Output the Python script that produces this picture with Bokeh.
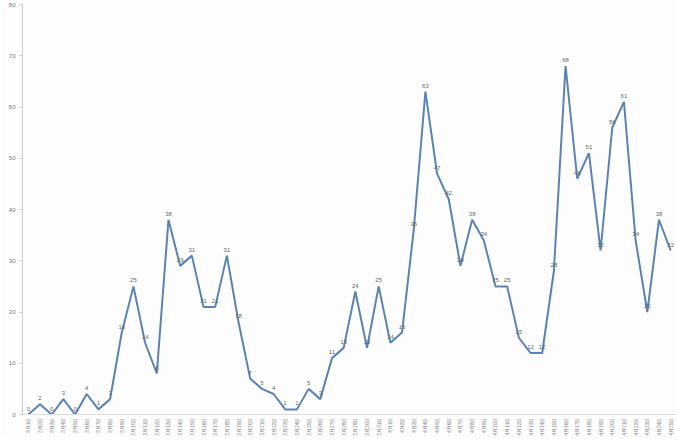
import math
from bokeh.plotting import figure
from bokeh.models import ColumnDataSource, FactorRange, FixedTicker
from bokeh.embed import file_html
from bokeh.resources import INLINE

march = [f"3月{d}日" for d in range(1, 32)]
april = [f"4月{d}日" for d in range(1, 26)]
dates = march + april

cases = [0, 2, 0, 3, 0, 4, 1, 3, 16, 25, 14, 8, 38, 29, 31, 21, 21, 31, 18, 7,
         5, 4, 1, 1, 5, 3, 11, 13, 24, 13, 25,
         14, 16, 36, 63, 47, 42, 29, 38, 34, 25, 25, 15, 12, 12, 28, 68, 46, 51,
         32, 56, 61, 34, 20, 38, 32]

y_ticks = [0, 10, 20, 30, 40, 50, 60, 70, 80]

src = ColumnDataSource(dict(x=dates, y=cases, lbl=[str(v) for v in cases]))

p = figure(x_range=FactorRange(*dates, range_padding=0), y_range=(0, 80),
           frame_width=654, frame_height=410, output_backend="svg", toolbar_location=None,
           min_border_left=22, min_border_right=0, min_border_top=4, min_border_bottom=0,
           background_fill_color="#fdfdfe", border_fill_color="#fdfdfe")
p.outline_line_color = None
p.xgrid.grid_line_color = None
p.ygrid.grid_line_color = None

p.line("x", "y", source=src, line_color="#5a82b2", line_width=2)
p.text("x", "y", text="lbl", source=src, text_font_size="6px", text_color="#666666",
       text_align="center", text_baseline="bottom", y_offset=-4)

p.yaxis.ticker = FixedTicker(ticks=y_ticks)
p.yaxis.axis_line_color = "#c5cad6"
p.yaxis.major_tick_line_color = "#c5cad6"
p.yaxis.major_tick_out = 3
p.yaxis.major_tick_in = 0
p.yaxis.minor_tick_line_color = None
p.yaxis.major_label_text_font_size = "6px"
p.yaxis.major_label_text_color = "#777777"
p.yaxis.major_label_standoff = 4

p.xaxis.axis_line_color = "#dddddd"
p.xaxis.major_tick_line_color = None
p.xaxis.major_tick_out = 0
p.xaxis.major_label_orientation = math.pi / 2
p.xaxis.major_label_text_font_size = "5px"
p.xaxis.major_label_text_color = "#888888"
p.xaxis.major_label_standoff = 3

open("out.html", "w").write(file_html(p, INLINE))
